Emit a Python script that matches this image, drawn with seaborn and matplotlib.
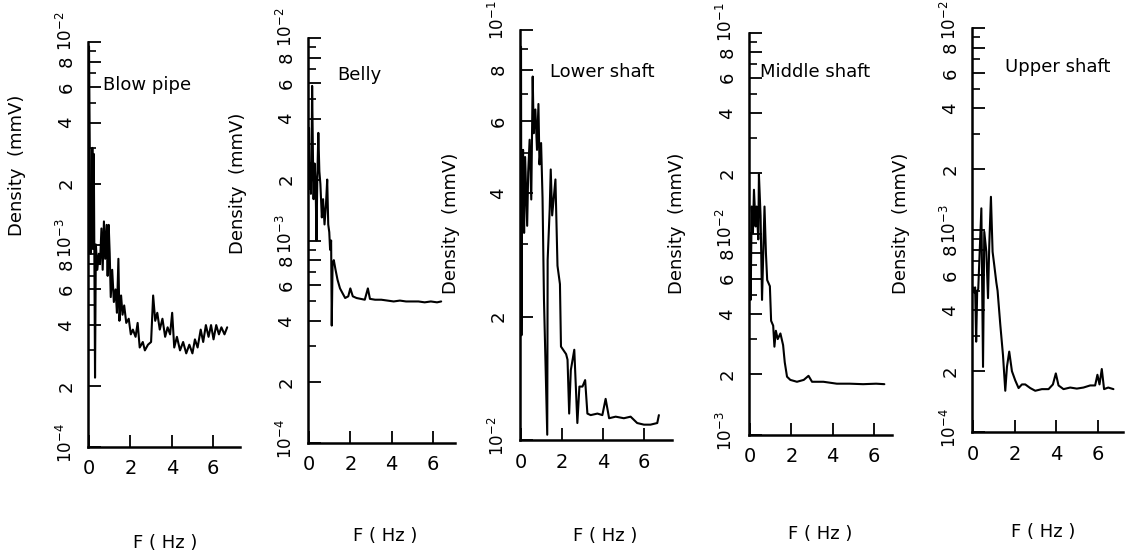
import matplotlib
matplotlib.use("Agg")
import matplotlib.pyplot as plt
import matplotlib.ticker as mticker
from matplotlib.transforms import ScaledTranslation
import numpy as np
import pandas as pd
import seaborn as sns

# Blow pipe
blow_f = [0.00, 0.02, 0.04, 0.05, 0.07, 0.10, 0.13, 0.16, 0.19, 0.23, 0.26, 0.29, 0.33, 0.40,
          0.47, 0.53, 0.60, 0.66, 0.72, 0.78, 0.85, 0.90, 0.95, 1.00, 1.05, 1.12, 1.20, 1.28,
          1.35, 1.42, 1.47, 1.55, 1.62, 1.70, 1.80, 1.92, 2.02, 2.12, 2.25, 2.35, 2.45, 2.60,
          2.70, 2.85, 3.00, 3.10, 3.20, 3.30, 3.42, 3.55, 3.68, 3.80, 3.92, 4.02, 4.12, 4.25,
          4.40, 4.55, 4.70, 4.85, 5.00, 5.12, 5.25, 5.40, 5.52, 5.65, 5.78, 5.90, 6.02, 6.15,
          6.28, 6.40, 6.55, 6.68]
blow_d = [9.5e-3, 5.0e-3, 2.6e-3, 1.4e-3, 9.0e-4, 1.6e-3, 1.0e-3, 3.0e-3, 9.5e-4, 2.8e-3,
          8.0e-4, 2.2e-4, 1.0e-3, 7.5e-4, 9.0e-4, 8.0e-4, 1.2e-3, 7.5e-4, 1.3e-3, 8.5e-4,
          1.25e-3, 7.0e-4, 1.25e-3, 9.0e-4, 5.5e-4, 7.5e-4, 5.2e-4, 6.0e-4, 4.6e-4, 8.5e-4,
          4.2e-4, 5.6e-4, 4.5e-4, 5.0e-4, 4.1e-4, 4.3e-4, 3.6e-4, 3.8e-4, 3.5e-4, 4.1e-4,
          3.1e-4, 3.3e-4, 3.0e-4, 3.2e-4, 3.3e-4, 5.6e-4, 4.2e-4, 4.6e-4, 3.8e-4, 4.3e-4,
          3.5e-4, 3.9e-4, 3.6e-4, 4.6e-4, 3.1e-4, 3.5e-4, 3.0e-4, 3.3e-4, 2.9e-4, 3.2e-4,
          2.9e-4, 3.4e-4, 3.1e-4, 3.8e-4, 3.3e-4, 4.0e-4, 3.5e-4, 4.0e-4, 3.4e-4, 4.0e-4,
          3.6e-4, 3.9e-4, 3.6e-4, 3.9e-4]

# Belly
belly_f = [0.00, 0.03, 0.06, 0.09, 0.12, 0.15, 0.19, 0.22, 0.27, 0.32, 0.36, 0.40, 0.45, 0.50,
           0.55, 0.62, 0.68, 0.75, 0.82, 0.88, 0.93, 0.98, 1.02, 1.07, 1.10, 1.14, 1.20, 1.28,
           1.38, 1.50, 1.62, 1.75, 1.90, 2.00, 2.12, 2.30, 2.50, 2.70, 2.85, 2.95, 3.20, 3.50,
           3.80, 4.10, 4.40, 4.70, 5.00, 5.30, 5.60, 5.90, 6.20, 6.40]
belly_d = [3.6e-3, 1.8e-3, 2.4e-3, 1.7e-3, 2.3e-3, 5.8e-3, 2.6e-3, 1.6e-3, 2.4e-3, 1.9e-3,
           1.0e-3, 2.0e-3, 3.4e-3, 2.2e-3, 1.9e-3, 1.3e-3, 1.6e-3, 1.2e-3, 1.5e-3, 2.0e-3,
           1.2e-3, 1.1e-3, 9.0e-4, 1.0e-3, 3.8e-4, 7.6e-4, 8.0e-4, 7.2e-4, 6.4e-4, 5.8e-4,
           5.5e-4, 5.2e-4, 5.3e-4, 5.8e-4, 5.3e-4, 5.2e-4, 5.15e-4, 5.1e-4, 5.8e-4, 5.15e-4,
           5.1e-4, 5.1e-4, 5.05e-4, 5.0e-4, 5.05e-4, 5.0e-4, 5.0e-4, 5.0e-4, 4.95e-4, 5.0e-4,
           4.95e-4, 5.0e-4]

# Lower shaft
lower_f = [0.00, 0.02, 0.05, 0.10, 0.15, 0.20, 0.30, 0.35, 0.42, 0.50, 0.57, 0.62, 0.70, 0.78,
           0.85, 0.90, 0.98, 1.05, 1.12, 1.28, 1.30, 1.40, 1.45, 1.52, 1.68, 1.78, 1.90, 1.95,
           2.20, 2.27, 2.35, 2.43, 2.60, 2.67, 2.75, 2.85, 3.00, 3.13, 3.24, 3.40, 3.73, 3.97,
           4.13, 4.30, 4.62, 5.02, 5.35, 5.67, 6.00, 6.32, 6.65, 6.73]
lower_d = [0.091, 0.018, 0.0386, 0.051, 0.032, 0.049, 0.0333, 0.045, 0.054, 0.0386, 0.077,
           0.056, 0.064, 0.051, 0.066, 0.047, 0.053, 0.039, 0.022, 0.0103, 0.0275, 0.0366,
           0.0457, 0.0353, 0.0432, 0.0266, 0.024, 0.0169, 0.0162, 0.0157, 0.0116, 0.0148,
           0.0166, 0.0137, 0.0110, 0.0135, 0.0135, 0.0140, 0.0116, 0.0115, 0.0116, 0.0115,
           0.0126, 0.0113, 0.0114, 0.0113, 0.0114, 0.0110, 0.0109, 0.0109, 0.0110, 0.0115]

# Middle shaft
middle_f = [0.00, 0.03, 0.08, 0.14, 0.19, 0.27, 0.32, 0.40, 0.43, 0.51, 0.58, 0.64, 0.70, 0.77,
            0.83, 0.96, 1.02, 1.12, 1.18, 1.25, 1.34, 1.47, 1.60, 1.68, 1.79, 1.95, 2.27, 2.60,
            2.83, 3.00, 3.55, 4.20, 4.83, 5.47, 6.10, 6.50]
middle_d = [0.0101, 0.0047, 0.0137, 0.0101, 0.0166, 0.0109, 0.0137, 0.0094, 0.0198, 0.0123,
            0.0047, 0.0080, 0.0137, 0.0080, 0.0059, 0.0055, 0.0037, 0.0035, 0.00275, 0.0033,
            0.0030, 0.0032, 0.0028, 0.0023, 0.00195, 0.00188, 0.00184, 0.00188, 0.00197,
            0.00184, 0.00184, 0.00180, 0.00180, 0.00179, 0.00180, 0.00179]

# Upper shaft
upper_f = [0.00, 0.05, 0.10, 0.15, 0.20, 0.25, 0.40, 0.48, 0.54, 0.64, 0.72, 0.78, 0.86, 0.94,
           1.02, 1.12, 1.18, 1.31, 1.44, 1.55, 1.63, 1.74, 1.87, 2.03, 2.19, 2.35, 2.51, 2.75,
           2.99, 3.31, 3.63, 3.84, 3.98, 4.11, 4.35, 4.67, 4.99, 5.31, 5.63, 5.87, 5.98, 6.08,
           6.19, 6.30, 6.50, 6.75]
upper_d = [5.2e-4, 4.9e-4, 5.2e-4, 2.8e-4, 5.0e-4, 5.1e-4, 1.28e-3, 2.1e-4, 9.8e-4, 7.8e-4,
           4.6e-4, 8.4e-4, 1.46e-3, 7.8e-4, 6.7e-4, 5.5e-4, 5.0e-4, 3.4e-4, 2.4e-4, 1.6e-4,
           2.1e-4, 2.5e-4, 2.0e-4, 1.8e-4, 1.65e-4, 1.72e-4, 1.72e-4, 1.65e-4, 1.6e-4, 1.63e-4,
           1.63e-4, 1.72e-4, 1.95e-4, 1.7e-4, 1.63e-4, 1.66e-4, 1.64e-4, 1.66e-4, 1.7e-4,
           1.7e-4, 1.92e-4, 1.72e-4, 2.05e-4, 1.63e-4, 1.66e-4, 1.63e-4]

titles = ["Blow pipe", "Belly", "Lower shaft", "Middle shaft", "Upper shaft"]
freqs = [blow_f, belly_f, lower_f, middle_f, upper_f]
dens = [blow_d, belly_d, lower_d, middle_d, upper_d]
decades = [(-4, -2), (-4, -2), (-2, -1), (-3, -1), (-4, -2)]
xmax = [7.3, 7.07, 7.37, 6.87, 7.21]

W, H = 1144, 554
# panel boxes in pixels: left, right, top, bottom
boxes = [(88, 240, 42, 447), (308, 455, 38, 443), (520, 672, 30, 440),
         (749, 892, 33, 435), (972, 1123, 28, 432)]
title_pos = [(0.10, 0.894), (0.197, 0.909), (0.197, 0.898), (0.077, 0.903), (0.22, 0.903)]
xlab_pos = [(0.507, -0.215), (0.524, -0.207), (0.56, -0.212), (0.497, -0.225), (0.47, -0.225)]
ylab_pos = [(-0.408, 0.696), (-0.415, 0.642), (-0.395, 0.529), (-0.44, 0.527), (-0.41, 0.517)]

sns.set_style("ticks")
plt.rcParams['font.family'] = ['DejaVu Sans']
plt.rcParams['mathtext.fontset'] = 'dejavusans'
for k in ['text.color', 'axes.labelcolor', 'xtick.color', 'ytick.color']:
    plt.rcParams[k] = 'black'

fig = plt.figure(figsize=(W / 100, H / 100), dpi=100)


def tick_label(v):
    e = int(round(np.log10(v)))
    if abs(v - 10.0 ** e) < 1e-12:
        return r'$10^{%d}$' % e
    return str(int(round(v / 10.0 ** np.floor(np.log10(v)))))


for i in range(5):
    l, r, t, b = boxes[i]
    ax = fig.add_axes([l / W, 1 - b / H, (r - l) / W, (b - t) / H])
    df = pd.DataFrame({'F': freqs[i], 'D': dens[i]})
    sns.lineplot(data=df, x='F', y='D', ax=ax, color='black', lw=1.5,
                 estimator=None, sort=False)
    ax.set_yscale('log')
    lo, hi = decades[i]
    ax.set_ylim(10.0 ** lo, 10.0 ** hi)
    ax.set_xlim(-0.05, xmax[i])

    major = []
    minor = []
    for e in range(lo, hi):
        for m in [1, 2, 4, 6, 8]:
            major.append(m * 10.0 ** e)
        for m in [3, 5, 7, 9]:
            minor.append(m * 10.0 ** e)
    major.append(10.0 ** hi)
    ax.yaxis.set_major_locator(mticker.FixedLocator(major))
    ax.yaxis.set_major_formatter(mticker.FixedFormatter([tick_label(v) for v in major]))
    ax.yaxis.set_minor_locator(mticker.FixedLocator(minor))
    ax.yaxis.set_minor_formatter(mticker.NullFormatter())
    ax.set_xticks([0, 2, 4, 6])
    ax.set_xticklabels(['0', '2', '4', '6'])

    ax.tick_params(axis='y', which='major', direction='in', length=9, width=1.3,
                   labelsize=13, pad=9, labelrotation=90)
    ax.tick_params(axis='y', which='minor', direction='in', length=6, width=1.2)
    ax.tick_params(axis='x', which='major', direction='in', length=9, width=1.3,
                   labelsize=14, pad=9)

    # decade labels sit a little higher so they clear the "8" below them
    for v, tk in zip(major, ax.yaxis.get_major_ticks()):
        tk.label1.set_va('center')
        e = np.log10(v)
        if abs(e - round(e)) < 1e-9:
            tk.label1.set_fontsize(12)
            if round(e) == hi:
                dy = min(11, t - 20)
            elif round(e) == lo:
                dy = 4
            else:
                dy = 6
            tk.label1.set_transform(tk.label1.get_transform() +
                                    ScaledTranslation(0, dy / 100, fig.dpi_scale_trans))

    sns.despine(ax=ax)
    for s in ['left', 'bottom']:
        ax.spines[s].set_linewidth(1.8)
        ax.spines[s].set_color('black')

    ax.text(*title_pos[i], titles[i], transform=ax.transAxes, ha='left', va='center',
            fontsize=13)
    ax.set_xlabel('F ( Hz )', fontsize=13)
    ax.xaxis.set_label_coords(*xlab_pos[i])
    ax.set_ylabel('Density  (mmV)', fontsize=13)
    ax.yaxis.set_label_coords(*ylab_pos[i])

fig.savefig('out.png', dpi=100)
